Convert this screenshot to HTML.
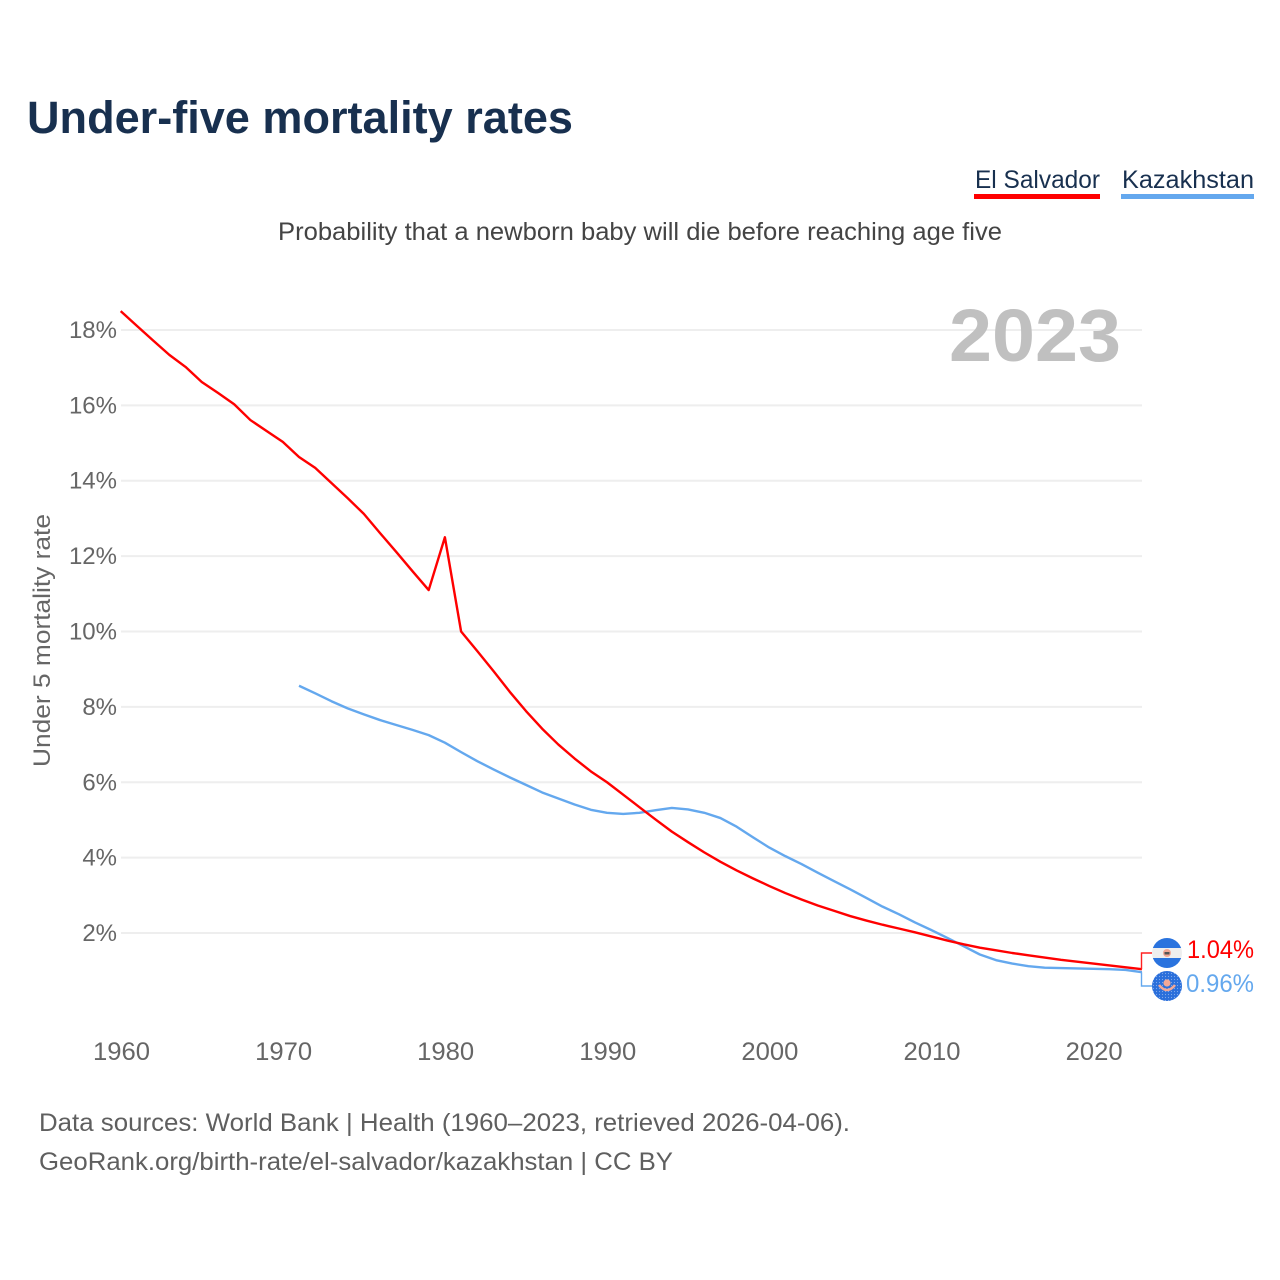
<!DOCTYPE html>
<html lang="en">
<head>
<meta charset="utf-8">
<title>Under-five mortality rates</title>
<style>
html,body{margin:0;padding:0;background:#fff;width:1280px;height:1280px;overflow:hidden}
svg{display:block;font-family:"Liberation Sans",sans-serif}
</style>
</head>
<body>
<svg id="chart" width="1280" height="1280" viewBox="0 0 1280 1280" xmlns="http://www.w3.org/2000/svg">
  <defs>
    <clipPath id="clip-sv"><circle cx="1167" cy="953" r="15"/></clipPath>
    <pattern id="dots" width="3" height="3" patternUnits="userSpaceOnUse"><rect width="3" height="3" fill="#2a6fdb"/><circle cx="1.5" cy="1.5" r="0.6" fill="#7fa8ea"/></pattern>
  </defs>
  <text x="27" y="133" font-size="45" font-weight="700" fill="#18304f" textLength="546" lengthAdjust="spacingAndGlyphs">Under-five mortality rates</text>

  <text x="975" y="188" font-size="25" fill="#18304f" textLength="125" lengthAdjust="spacingAndGlyphs">El Salvador</text>
  <rect x="974" y="194" width="126" height="5" fill="#ff0000"/>
  <text x="1122" y="188" font-size="25" fill="#18304f" textLength="132" lengthAdjust="spacingAndGlyphs">Kazakhstan</text>
  <rect x="1121" y="194" width="133" height="5" fill="#64a8ee"/>

  <text x="278" y="240" font-size="25" fill="#444444" textLength="724" lengthAdjust="spacingAndGlyphs">Probability that a newborn baby will die before reaching age five</text>

  <g id="grid"></g>
  <g id="yticks"></g>
  <g id="xticks"></g>

  <text transform="translate(50,767) rotate(-90)" font-size="24" fill="#666666" textLength="253" lengthAdjust="spacingAndGlyphs">Under 5 mortality rate</text>

  <text x="949" y="361" font-size="74" font-weight="700" fill="#c0c0c0" textLength="172" lengthAdjust="spacingAndGlyphs">2023</text>

  <g id="series"></g>

  <g>
    <g clip-path="url(#clip-sv)">
      <rect x="1152" y="938" width="30" height="10" fill="#2a73de"/>
      <rect x="1152" y="948" width="30" height="10" fill="#eeeeee"/>
      <rect x="1152" y="958" width="30" height="10" fill="#2a73de"/>
      <circle cx="1167" cy="953" r="4" fill="#f2a896"/>
      <rect x="1164.5" y="952" width="5" height="2.5" fill="#555555"/>
    </g>
  </g>
  <text x="1187" y="958" font-size="25" fill="#ff0000" textLength="67" lengthAdjust="spacingAndGlyphs">1.04%</text>

  <g>
    <circle cx="1167" cy="986" r="15" fill="url(#dots)"/>
    <circle cx="1167" cy="983" r="3.6" fill="#f2a896"/>
    <path d="M1159 985 Q1167 995 1175 985" fill="none" stroke="#f2a896" stroke-width="2.6"/>
  </g>
  <text x="1186" y="992" font-size="25" fill="#64a8ee" textLength="68" lengthAdjust="spacingAndGlyphs">0.96%</text>

  <text x="39" y="1131" font-size="25" fill="#5f5f5f" textLength="811" lengthAdjust="spacingAndGlyphs">Data sources: World Bank | Health (1960–2023, retrieved 2026-04-06).</text>
  <text x="39" y="1170" font-size="25" fill="#5f5f5f" textLength="634" lengthAdjust="spacingAndGlyphs">GeoRank.org/birth-rate/el-salvador/kazakhstan | CC BY</text>
</svg>
<script>
const yTickValues = [2, 4, 6, 8, 10, 12, 14, 16, 18];
const xTickYears = [1960, 1970, 1980, 1990, 2000, 2010, 2020];
const elSalvadorStartYear = 1960;
const elSalvadorValues = [18.5, 18.11, 17.72, 17.34, 17.02, 16.62, 16.33, 16.03, 15.61, 15.32,
  15.03, 14.63, 14.34, 13.94, 13.54, 13.12, 12.61, 12.11, 11.6, 11.1,
  12.5, 10.0, 9.48, 8.95, 8.40, 7.89, 7.42, 7.00, 6.63, 6.29,
  6.0, 5.67, 5.34, 5.01, 4.69, 4.41, 4.14, 3.89, 3.66, 3.45,
  3.25, 3.06, 2.89, 2.73, 2.59, 2.45, 2.33, 2.22, 2.12, 2.02,
  1.91, 1.80, 1.70, 1.61, 1.54, 1.47, 1.41, 1.35, 1.29, 1.24,
  1.19, 1.14, 1.09, 1.04];
const kazakhstanStartYear = 1971;
const kazakhstanValues = [8.56, 8.36, 8.15, 7.96, 7.80, 7.65, 7.52, 7.39, 7.25,
  7.05, 6.80, 6.56, 6.34, 6.13, 5.93, 5.73, 5.57, 5.41, 5.27,
  5.19, 5.16, 5.19, 5.26, 5.32, 5.28, 5.19, 5.05, 4.82, 4.54,
  4.27, 4.04, 3.83, 3.60, 3.38, 3.16, 2.93, 2.70, 2.50, 2.28,
  2.08, 1.87, 1.65, 1.43, 1.28, 1.19, 1.12, 1.08, 1.07, 1.06,
  1.05, 1.04, 1.02, 0.96];

const NS = 'http://www.w3.org/2000/svg';
function xScale(year) { return 120.7 + (year - 1960) * 16.21; }
function yScale(v) { return 1008.4 - v * 37.69; }

const grid = document.getElementById('grid');
const yticks = document.getElementById('yticks');
const xticks = document.getElementById('xticks');
const series = document.getElementById('series');

yTickValues.forEach(function (v) {
  const line = document.createElementNS(NS, 'line');
  
  
  line.setAttribute('x1', 121);
  line.setAttribute('x2', 1142);
  line.setAttribute('y1', yScale(v));
  line.setAttribute('y2', yScale(v));
  line.setAttribute('stroke', '#eeeeee');
  line.setAttribute('stroke-width', 2);
  grid.appendChild(line);

  const t = document.createElementNS(NS, 'text');
  
  
  t.setAttribute('x', 117);
  t.setAttribute('y', yScale(v) + 8);
  t.setAttribute('text-anchor', 'end');
  t.setAttribute('font-size', 24);
  t.setAttribute('fill', '#666666');
  t.textContent = v + '%';
  yticks.appendChild(t);
});

xTickYears.forEach(function (yr) {
  const t = document.createElementNS(NS, 'text');
  
  
  t.setAttribute('x', xScale(yr) - 27.7);
  t.setAttribute('y', 1060);
  t.setAttribute('font-size', 25);
  t.setAttribute('fill', '#666666');
  t.setAttribute('textLength', 57);
  t.setAttribute('lengthAdjust', 'spacingAndGlyphs');
  t.textContent = yr;
  xticks.appendChild(t);
});

function pathFor(startYear, values) {
  return values.map(function (v, i) {
    return (i ? 'L' : 'M') + xScale(startYear + i).toFixed(2) + ' ' + yScale(v).toFixed(2);
  }).join(' ');
}

const lineKz = document.createElementNS(NS, 'path');


lineKz.setAttribute('d', pathFor(kazakhstanStartYear, kazakhstanValues));
lineKz.setAttribute('fill', 'none');
lineKz.setAttribute('stroke', '#64a8ee');
lineKz.setAttribute('stroke-width', 2.4);
lineKz.setAttribute('stroke-linejoin', 'round');
series.appendChild(lineKz);

const lineSv = document.createElementNS(NS, 'path');


lineSv.setAttribute('d', pathFor(elSalvadorStartYear, elSalvadorValues));
lineSv.setAttribute('fill', 'none');
lineSv.setAttribute('stroke', '#ff0000');
lineSv.setAttribute('stroke-width', 2.4);
lineSv.setAttribute('stroke-linejoin', 'round');
series.appendChild(lineSv);

const lastSv = yScale(elSalvadorValues[elSalvadorValues.length - 1]);
const lastKz = yScale(kazakhstanValues[kazakhstanValues.length - 1]);

const connSv = document.createElementNS(NS, 'path');


connSv.setAttribute('d', 'M1141.5 ' + lastSv.toFixed(2) + ' V953 H1152');
connSv.setAttribute('fill', 'none');
connSv.setAttribute('stroke', '#ff2222');
connSv.setAttribute('stroke-width', 1.4);
series.appendChild(connSv);

const connKz = document.createElementNS(NS, 'path');


connKz.setAttribute('d', 'M1141.5 ' + lastKz.toFixed(2) + ' V986 H1152');
connKz.setAttribute('fill', 'none');
connKz.setAttribute('stroke', '#64a8ee');
connKz.setAttribute('stroke-width', 1.4);
series.appendChild(connKz);
</script>
</body>
</html>
